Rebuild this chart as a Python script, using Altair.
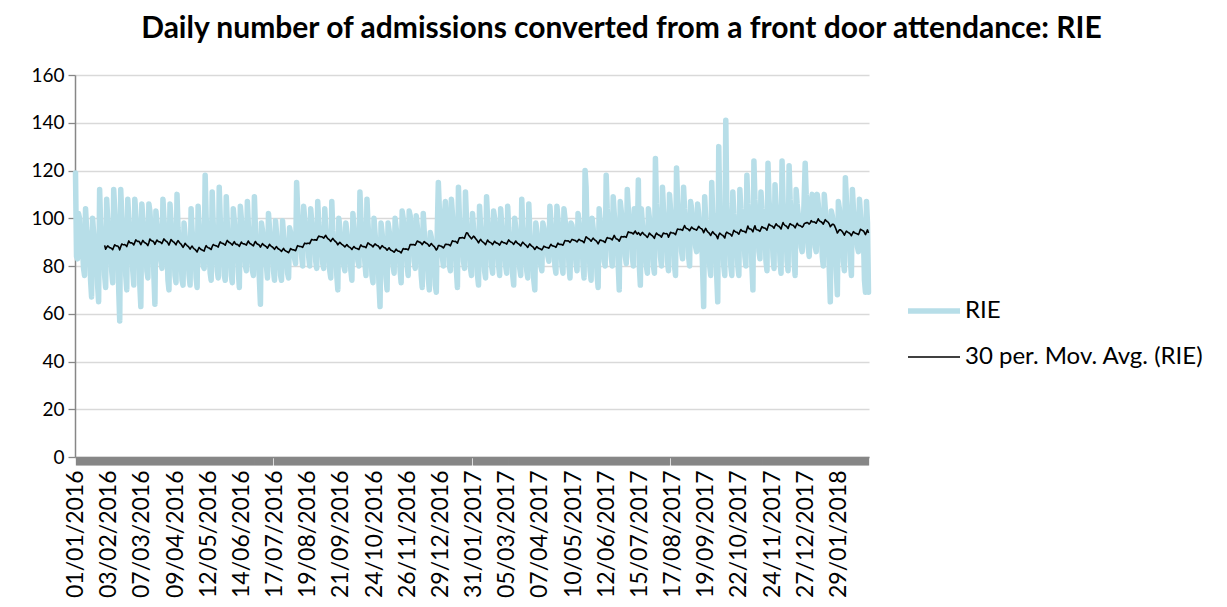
import altair as alt
import pandas as pd

# Daily admissions (RIE), 01/01/2016 .. 28/02/2018
rie_2016 = [
    119, 84, 83,
    102, 100, 91, 88, 87, 79, 76,
    104, 96, 92, 86, 90, 74, 67,
    100, 94, 88, 85, 86, 72, 65,
    112, 98, 90, 87, 88, 76, 71,
    108, 100, 92, 88, 90, 78, 73,
    112, 104, 96, 90, 92, 70, 57,
    112, 102, 94, 90, 91, 76, 70,
    108, 100, 93, 92, 90, 78, 72,
    108, 102, 96, 92, 94, 72, 63,
    106, 100, 94, 92, 90, 78, 75,
    106, 103, 96, 94, 92, 76, 64,
    103, 98, 94, 92, 91, 82, 79,
    108, 100, 93, 90, 88, 74, 70,
    106, 99, 92, 88, 86, 76, 73,
    110, 96, 90, 86, 84, 74, 72,
    98, 93, 88, 85, 84, 76, 72,
    104, 95, 88, 86, 85, 75, 71,
    105, 97, 90, 88, 87, 80, 79,
    118, 100, 92, 88, 86, 77, 74,
    111, 98, 90, 87, 86, 78, 75,
    113, 100, 92, 88, 86, 76, 74,
    109, 98, 88, 86, 85, 76, 73,
    104, 99, 93, 90, 92, 78, 71,
    105, 100, 94, 92, 90, 80, 78,
    107, 97, 90, 88, 86, 78, 76,
    109, 96, 88, 86, 84, 74, 64,
    98, 95, 90, 88, 87, 80, 75,
    102, 96, 90, 87, 88, 78, 74,
    99, 94, 88, 85, 84, 76, 74,
    99, 93, 88, 85, 84, 77, 75,
    96, 94, 90, 88, 89, 83, 81,
    115, 104, 96, 91, 90, 84, 80,
    105, 100, 95, 92, 93, 84, 80,
    104, 99, 94, 91, 92, 82, 79,
    107, 98, 92, 89, 90, 81, 79,
    104, 96, 90, 88, 87, 78, 75,
    107, 95, 88, 85, 86, 76, 70,
    100, 96, 90, 87, 86, 80, 78,
    98, 94, 89, 86, 86, 78, 74,
    102, 96, 90, 88, 87, 82, 80,
    111, 100, 92, 89, 88, 81, 76,
    108, 98, 90, 86, 85, 76, 73,
    100, 94, 88, 85, 84, 72, 63,
    98, 94, 89, 86, 85, 75, 70,
    98, 95, 91, 88, 88, 80, 77,
    100, 96, 92, 89, 88, 78, 73,
    103, 100, 95, 92, 91, 80, 76,
    103, 101, 96, 93, 92, 82, 79,
    101, 97, 92, 87, 88, 76, 71,
    102, 94, 88, 87, 86, 75, 70,
    94, 92, 88, 86, 84, 72, 69,
    96, 115, 104, 96, 92, 84,
]

rie_2017 = [
    80,
    100, 107, 100, 95, 93, 80, 78,
    108, 102, 95, 92, 90, 78, 71,
    113, 100, 94, 92, 91, 82, 79,
    111, 100, 93, 90, 88, 79, 76,
    102, 96, 90, 87, 86, 76, 72,
    105, 97, 91, 88, 87, 78, 75,
    109, 100, 94, 91, 90, 80, 77,
    103, 100, 95, 92, 91, 80, 76,
    104, 98, 92, 89, 88, 80, 77,
    105, 96, 90, 87, 86, 76, 72,
    100, 96, 91, 88, 87, 79, 76,
    108, 97, 90, 87, 85, 78, 75,
    106, 95, 88, 85, 84, 74, 70,
    98, 95, 90, 88, 87, 80, 78,
    98, 96, 92, 90, 89, 84, 82,
    105, 99, 93, 90, 89, 80, 77,
    105, 100, 94, 91, 90, 80, 77,
    104, 100, 95, 92, 92, 80, 75,
    98, 97, 93, 91, 90, 81, 78,
    102, 98, 94, 92, 91, 80, 75,
    120, 113, 93, 90, 88, 78, 74,
    100, 96, 90, 88, 87, 76, 71,
    104, 99, 94, 91, 90, 82, 80,
    118, 104, 97, 94, 92, 84, 80,
    109, 102, 96, 93, 92, 80, 70,
    107, 103, 98, 95, 94, 84, 81,
    112, 104, 98, 95, 94, 84, 80,
    104, 96, 92, 90, 116, 80, 72,
    104, 98, 93, 90, 88, 80, 77,
    104, 100, 94, 91, 90, 80, 77,
    125, 106, 98, 95, 94, 84, 80,
    113, 104, 97, 94, 93, 82, 78,
    110, 104, 98, 95, 94, 80, 76,
    121, 108, 100, 97, 96, 86, 83,
    113, 104, 98, 96, 95, 84, 80,
    107, 104, 98, 95, 94, 88, 86,
    106, 102, 96, 93, 92, 78, 63,
    109, 100, 95, 92, 90, 80, 76,
    115, 102, 95, 92, 90, 76, 65,
    130, 104, 96, 93, 92, 80, 76,
    141, 106, 98, 94, 92, 80, 76,
    111, 102, 96, 93, 92, 80, 76,
    112, 104, 99, 96, 95, 84, 80,
    118, 106, 100, 97, 95, 80, 70,
    124, 108, 100, 97, 96, 86, 83,
    111, 104, 99, 96, 95, 82, 78,
    123, 108, 100, 97, 95, 84, 79,
    114, 106, 100, 96, 95, 82, 77,
    124, 107, 99, 96, 95, 82, 78,
    122, 108, 101, 97, 96, 82, 76,
    112, 106, 102, 100, 99, 88, 86,
    95, 108, 123, 110, 104, 88, 84,
]

rie_2018 = [
    96, 106, 110, 104, 100, 88, 86,
    110, 106, 100, 97, 96, 84, 80,
    110, 104, 98, 95, 94, 78, 65,
    103, 101, 97, 95, 94, 78, 68,
    107, 104, 98, 96, 95, 82, 78,
    117, 108, 100, 97, 96, 82, 76,
    112, 104, 98, 96, 95, 88, 86,
    108, 102, 96, 93, 92, 74, 69,
    107, 98, 69,
]

tick_labels = [
    "01/01/2016", "03/02/2016", "07/03/2016", "09/04/2016", "12/05/2016",
    "14/06/2016", "17/07/2016", "19/08/2016", "21/09/2016", "24/10/2016",
    "26/11/2016", "29/12/2016", "31/01/2017", "05/03/2017", "07/04/2017",
    "10/05/2017", "12/06/2017", "15/07/2017", "17/08/2017", "19/09/2017",
    "22/10/2017", "24/11/2017", "27/12/2017", "29/01/2018",
]

y_ticks = [0, 20, 40, 60, 80, 100, 120, 140, 160]
series_names = ["RIE", "30 per. Mov. Avg. (RIE)"]
series_colors = ["#B7DEE8", "#000000"]
series_widths = [5.5, 1.6]
title_text = "Daily number of admissions converted from a front door attendance: RIE"

values = rie_2016 + rie_2017 + rie_2018
dates = pd.date_range("2016-01-01", periods=len(values), freq="D").strftime("%d/%m/%Y").tolist()
df = pd.DataFrame({"idx": list(range(len(values))), "date": dates, "RIE": values})

FONT = "Lato"
AXIS_GREY = "#878787"

label_expr = ("indexof([" + ",".join("'%s'" % t for t in tick_labels) +
              "], datum.value) >= 0 ? datum.value : ''")

x_enc = alt.X(
    "date:O",
    sort=None,
    scale=alt.Scale(domain=dates),
    axis=alt.Axis(
        title=None, labelExpr=label_expr, labelAngle=270, labelOverlap=False,
        labelFont=FONT, labelFontSize=23, labelColor="#000000", labelPadding=5,
        labelBound=False, labelFlush=False,
        ticks=True, tickSize=8, tickWidth=1.3, tickColor=AXIS_GREY,
        domainColor=AXIS_GREY, domainWidth=1.5, grid=False,
    ),
)

y_scale = alt.Scale(domain=[0, 160], nice=False, zero=True)
y_axis = alt.Axis(
    title=None, values=y_ticks, grid=True, gridColor="#D9D9D9", gridWidth=1.5,
    tickSize=7, tickColor=AXIS_GREY, tickWidth=1.3, domainColor=AXIS_GREY, domainWidth=1.5,
    labelFont=FONT, labelFontSize=19, labelColor="#000000", labelPadding=4,
)

legend_def = alt.Legend(
    title=None, orient="none", legendX=830, legendY=207, symbolType="stroke",
    symbolSize=2704, labelFont=FONT, labelFontSize=24, labelColor="#000000",
    labelOffset=2, rowPadding=7, symbolOpacity=1, labelLimit=0,
)

color_enc = alt.Color(
    "series:N",
    scale=alt.Scale(domain=series_names, range=series_colors),
    legend=legend_def,
)
width_enc = alt.StrokeWidth(
    "series:N",
    scale=alt.Scale(domain=series_names, range=series_widths),
    legend=legend_def,
)

base = alt.Chart(df)

raw = base.transform_calculate(series="'RIE'").mark_line(
    strokeJoin="round", strokeCap="round"
).encode(
    x=x_enc,
    y=alt.Y("RIE:Q", scale=y_scale, axis=y_axis),
    color=color_enc,
    strokeWidth=width_enc,
)

mov = base.transform_window(
    ma="mean(RIE)", n="count()", frame=[-29, 0], sort=[alt.SortField("idx")]
).transform_filter("datum.n >= 30").transform_calculate(
    series="'30 per. Mov. Avg. (RIE)'"
).mark_line(strokeJoin="round").encode(
    x=x_enc,
    y=alt.Y("ma:Q", scale=y_scale, axis=y_axis),
    color=color_enc,
    strokeWidth=width_enc,
)

chart = alt.layer(raw, mov).properties(
    width=794,
    height=382,
    background="#ffffff",
    padding={"left": 22, "top": 6, "right": 5, "bottom": 5},
    title=alt.TitleParams(
        title_text, font=FONT, fontSize=30, fontWeight="bold", color="#000000",
        anchor="middle", frame="bounds", offset=22, dx=4,
    ),
).configure_view(stroke=None)

chart.save("out.html", embed_options={"renderer": "svg", "actions": False})
